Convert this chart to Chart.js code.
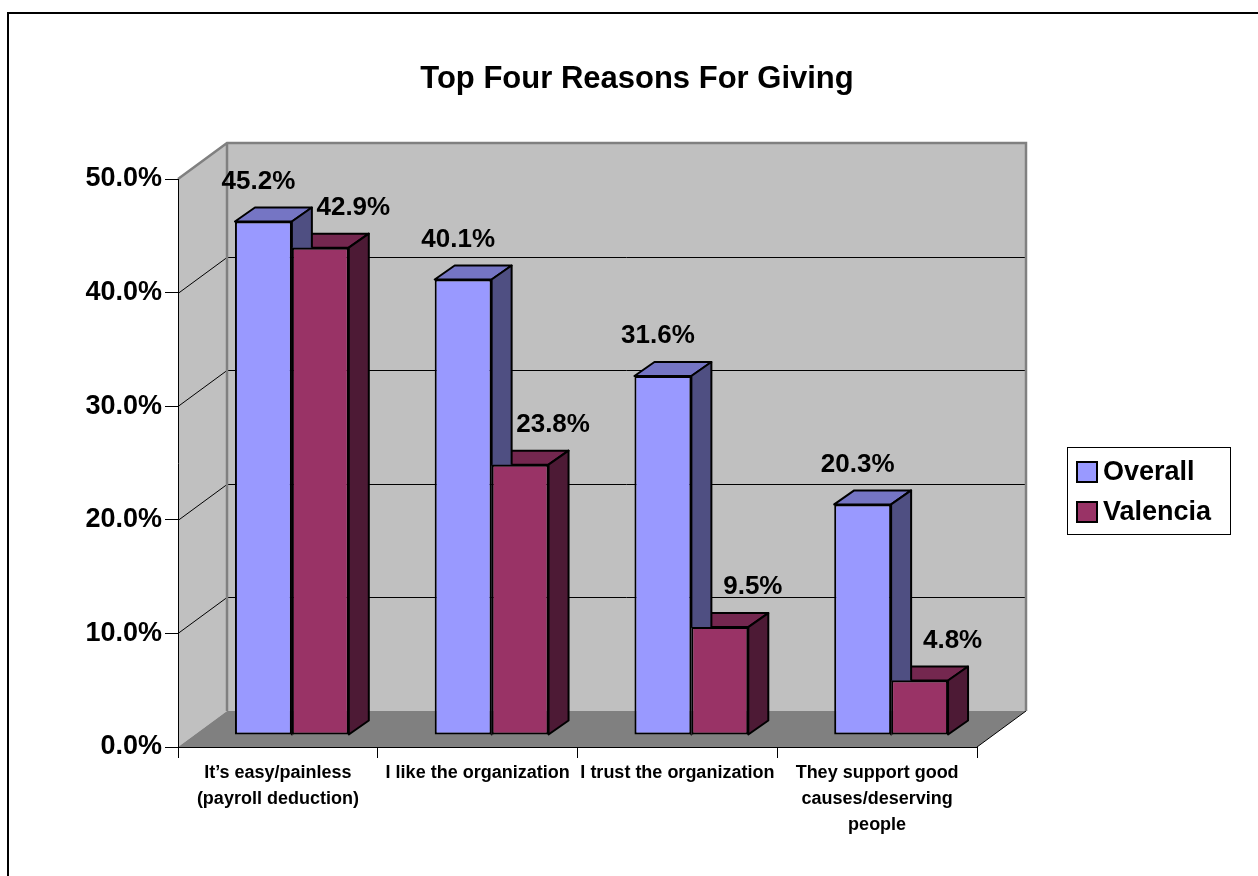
<!DOCTYPE html>
<html>
<head>
<meta charset="utf-8">
<title>Top Four Reasons For Giving</title>
<script src="https://cdn.jsdelivr.net/npm/chart.js@4.4.0/dist/chart.umd.min.js"></script>
<style>
  html, body { margin: 0; padding: 0; background: #fff; }
  canvas { display: block; }
</style>
</head>
<body>
<canvas id="givingChart" width="1258" height="876"></canvas>
<script>
const chartTitle = "Top Four Reasons For Giving";
const categories = [
    ["It\u2019s easy/painless", "(payroll deduction)"],
    "I like the organization",
    "I trust the organization",
    ["They support good", "causes/deserving", "people"]
];
const seriesNames = ["Overall", "Valencia"];
const overallValues = [45.2, 40.1, 31.6, 20.3];
const valenciaValues = [42.9, 23.8, 9.5, 4.8];
const yTicks = [0, 10, 20, 30, 40, 50];

const FONT = '"Liberation Sans", Arial, sans-serif';

// depth of the box (side wall, floor, back wall)
const WALL_DX = 49, WALL_DY = -36;
// bars sit a little behind the front edge of the floor
const BAR_SHIFT_X = 14, BAR_SHIFT_Y = -12;
// depth of each bar
const BAR_DX = 20, BAR_DY = -14;

// front, top, side shades per series
const shades = [
    { front: "#9999ff", top: "#7575c4", side: "#4f4f82" },
    { front: "#993366", top: "#74274f", side: "#4d1a35" }
];
// label x offset from the bar centre, per series
const labelShift = [-5, 33];

function poly(ctx, pts, fill, stroke, lw) {
    ctx.beginPath();
    ctx.moveTo(pts[0][0], pts[0][1]);
    for (let i = 1; i < pts.length; i++) ctx.lineTo(pts[i][0], pts[i][1]);
    ctx.closePath();
    if (fill) { ctx.fillStyle = fill; ctx.fill(); }
    if (stroke) { ctx.strokeStyle = stroke; ctx.lineWidth = lw || 1; ctx.stroke(); }
}

function barBox(bar) {
    return bar.getProps(["x", "y", "base", "width"], true);
}

const box3d = {
    id: "box3d",
    beforeDraw(chart) {
        const ctx = chart.ctx;
        const { left, right, top, bottom } = chart.chartArea;
        const y = chart.scales.y;
        ctx.save();

        // outer frame
        ctx.strokeStyle = "#000";
        ctx.lineWidth = 2;
        ctx.strokeRect(8, 13, 1300, 900);

        // back wall, side wall, floor
        ctx.fillStyle = "#c0c0c0";
        ctx.fillRect(left + WALL_DX, top + WALL_DY, right - left, bottom - top);
        poly(ctx, [[left, top], [left + WALL_DX, top + WALL_DY],
                   [left + WALL_DX, bottom + WALL_DY], [left, bottom]], "#c0c0c0");
        poly(ctx, [[left, bottom], [left + WALL_DX, bottom + WALL_DY],
                   [right + WALL_DX, bottom + WALL_DY], [right, bottom]], "#808080");

        // gridlines run across the side wall and the back wall
        ctx.strokeStyle = "#000";
        ctx.lineWidth = 1;
        y.ticks.forEach(t => {
            if (t.value === y.min || t.value === y.max) return;
            const py = Math.round(y.getPixelForValue(t.value)) + 0.5;
            ctx.beginPath();
            ctx.moveTo(left, py);
            ctx.lineTo(left + WALL_DX, py + WALL_DY);
            ctx.lineTo(right + WALL_DX, py + WALL_DY);
            ctx.stroke();
        });

        // floor right edge
        ctx.beginPath();
        ctx.moveTo(right, bottom);
        ctx.lineTo(right + WALL_DX, bottom + WALL_DY);
        ctx.stroke();

        // wall edges
        ctx.strokeStyle = "#808080";
        ctx.lineWidth = 2.5;
        ctx.beginPath();
        ctx.moveTo(left, top);
        ctx.lineTo(left + WALL_DX, top + WALL_DY);
        ctx.lineTo(right + WALL_DX, top + WALL_DY);
        ctx.lineTo(right + WALL_DX, bottom + WALL_DY);
        ctx.moveTo(left + WALL_DX, top + WALL_DY);
        ctx.lineTo(left + WALL_DX, bottom + WALL_DY);
        ctx.stroke();
        ctx.restore();
    },
    beforeDatasetsDraw(chart) {
        chart.ctx.save();
        chart.ctx.translate(BAR_SHIFT_X, BAR_SHIFT_Y);
    },
    afterDatasetDraw(chart, args) {
        const ctx = chart.ctx;
        const sh = shades[args.index];
        ctx.save();
        // series further right stand in front of this one's side faces
        const nearer = chart.data.datasets.map((d, k) => k).filter(k => k > args.index);
        if (nearer.length) {
            ctx.beginPath();
            ctx.rect(-100, -100, chart.width + 200, chart.height + 200);
            nearer.forEach(k => chart.getDatasetMeta(k).data.forEach(b => {
                const p = barBox(b);
                ctx.rect(p.x - p.width / 2, p.y, p.width, p.base - p.y);
            }));
            ctx.clip("evenodd");
        }
        ctx.lineJoin = "round";
        args.meta.data.forEach(bar => {
            const { x, y, base, width } = barBox(bar);
            const l = x - width / 2, r = x + width / 2;
            poly(ctx, [[l, y], [l + BAR_DX, y + BAR_DY], [r + BAR_DX, y + BAR_DY], [r, y]], sh.top, "#000", 2);
            poly(ctx, [[r, y], [r + BAR_DX, y + BAR_DY], [r + BAR_DX, base + BAR_DY], [r, base]], sh.side, "#000", 2);
        });
        ctx.restore();
    },
    afterDatasetsDraw(chart) {
        const ctx = chart.ctx;
        ctx.font = "bold 26px " + FONT;
        ctx.fillStyle = "#000";
        ctx.textAlign = "center";
        ctx.textBaseline = "middle";
        chart.data.datasets.forEach((ds, i) => {
            chart.getDatasetMeta(i).data.forEach((bar, j) => {
                const { x, y } = bar.getProps(["x", "y"], true);
                ctx.fillText(ds.data[j].toFixed(1) + "%", x + labelShift[i], y + BAR_DY - 26);
            });
        });
        ctx.restore();
    },
    afterDraw(chart) {
        const ctx = chart.ctx;
        ctx.save();
        // title
        ctx.fillStyle = "#000";
        ctx.font = "bold 31px " + FONT;
        ctx.textAlign = "center";
        ctx.textBaseline = "middle";
        ctx.fillText(chartTitle, 637, 79);

        // legend
        ctx.fillStyle = "#fff";
        ctx.fillRect(1067, 447, 163, 87);
        ctx.strokeStyle = "#000";
        ctx.lineWidth = 1;
        ctx.strokeRect(1067.5, 447.5, 163, 87);
        ctx.font = "bold 27px " + FONT;
        ctx.textAlign = "left";
        chart.data.datasets.forEach((ds, i) => {
            const cy = 472 + i * 40;
            ctx.fillStyle = ds.backgroundColor;
            ctx.fillRect(1077, cy - 10, 20, 20);
            ctx.lineWidth = 2;
            ctx.strokeRect(1077, cy - 10, 20, 20);
            ctx.fillStyle = "#000";
            ctx.fillText(ds.label, 1103, cy + 1);
        });
        ctx.restore();
    }
};

new Chart(document.getElementById("givingChart"), {
    type: "bar",
    data: {
        labels: categories,
        datasets: [{
            label: seriesNames[0],
            data: overallValues,
            backgroundColor: shades[0].front
        }, {
            label: seriesNames[1],
            data: valenciaValues,
            backgroundColor: shades[1].front
        }]
    },
    options: {
        responsive: false,
        animation: false,
        layout: { padding: { left: 8, right: 281, top: 179, bottom: 0 } },
        datasets: {
            bar: {
                barPercentage: 1,
                categoryPercentage: 0.57,
                borderColor: "#000",
                borderWidth: 2,
                borderSkipped: false,
                clip: false
            }
        },
        plugins: {
            legend: { display: false },
            title: { display: false },
            tooltip: { enabled: false }
        },
        scales: {
            x: {
                grid: { drawOnChartArea: false, tickLength: 11, color: "#000", offset: true },
                border: { color: "#000" },
                ticks: {
                    color: "#000",
                    font: { family: FONT, size: 18, weight: "bold", lineHeight: 1.45 },
                    padding: 2,
                    maxRotation: 0,
                    autoSkip: false
                },
                afterFit: s => { s.height = 129; }
            },
            y: {
                min: yTicks[0],
                max: yTicks[yTicks.length - 1],
                ticks: {
                    stepSize: yTicks[1] - yTicks[0],
                    color: "#000",
                    font: { family: FONT, size: 27, weight: "bold" },
                    padding: 3,
                    callback: v => v.toFixed(1) + "%"
                },
                grid: { drawOnChartArea: false, tickLength: 13, color: "#000" },
                border: { color: "#000" },
                afterFit: s => { s.width = 170; }
            }
        }
    },
    plugins: [box3d]
});
</script>
</body>
</html>
